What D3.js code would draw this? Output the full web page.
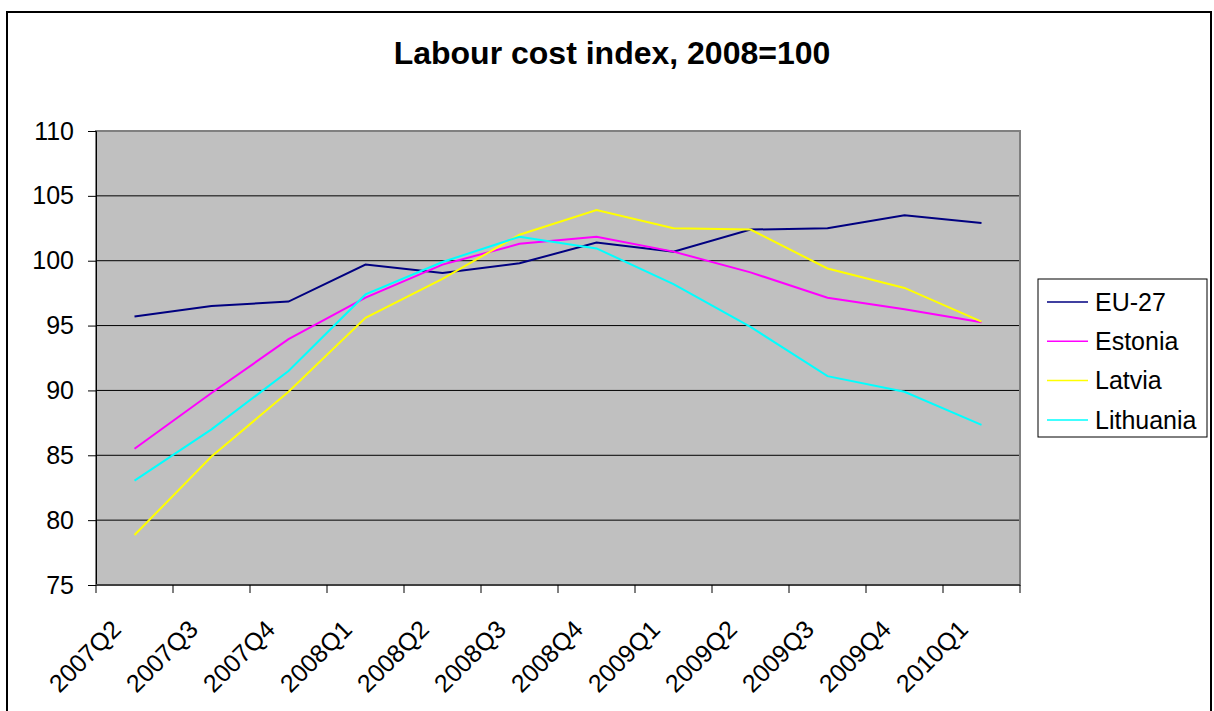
<!DOCTYPE html>
<html>
<head>
<meta charset="utf-8">
<script src="https://cdn.jsdelivr.net/npm/d3@7"></script>
<style>
  html, body { margin: 0; padding: 0; background: #fff; }
  svg { display: block; font-family: "Liberation Sans", Arial, sans-serif; }
</style>
</head>
<body>
<svg id="chart" width="1214" height="711"></svg>
<script>
// Quarterly labour cost index, 2008 = 100
const quarters = ["2007Q2","2007Q3","2007Q4","2008Q1","2008Q2","2008Q3","2008Q4","2009Q1","2009Q2","2009Q3","2009Q4","2010Q1"];
const eu27      = [95.7, 96.5, 96.85, 99.7, 99.05, 99.8, 101.4, 100.7, 102.4, 102.5, 103.5, 102.9];
const estonia   = [85.5, 89.8, 93.95, 97.15, 99.7, 101.3, 101.85, 100.7, 99.1, 97.15, 96.25, 95.25];
const latvia    = [78.85, 84.9, 89.9, 95.6, 98.6, 102.0, 103.9, 102.5, 102.4, 99.4, 97.9, 95.3];
const lithuania = [83.05, 87.0, 91.5, 97.4, 99.9, 101.85, 100.95, 98.2, 94.9, 91.1, 89.9, 87.35];
const seriesNames = ["EU-27", "Estonia", "Latvia", "Lithuania"];
const seriesColors = ["#000080", "#FF00FF", "#FFFF00", "#00FFFF"];
const yTicks = [75, 80, 85, 90, 95, 100, 105, 110];
const title = "Labour cost index, 2008=100";

const series = [eu27, estonia, latvia, lithuania].map((vals, i) => ({
  name: seriesNames[i], color: seriesColors[i], values: vals
}));

const svg = d3.select("#chart");

// outer chart frame
svg.append("rect")
  .attr("x", 7).attr("y", 12).attr("width", 1204).attr("height", 710)
  .attr("fill", "#fff").attr("stroke", "#000").attr("stroke-width", 2);

const plot = { left: 96, right: 1020, top: 131, bottom: 585 };

const x = d3.scaleBand().domain(quarters).range([plot.left, plot.right]).padding(0);
const y = d3.scaleLinear().domain([75, 110]).range([plot.bottom, plot.top]);

// title
svg.append("text")
  .attr("x", 612).attr("y", 64)
  .attr("text-anchor", "middle")
  .attr("font-size", 32).attr("font-weight", "bold")
  .text(title);

// plot background
svg.append("rect")
  .attr("x", plot.left).attr("y", plot.top)
  .attr("width", plot.right - plot.left).attr("height", plot.bottom - plot.top)
  .attr("fill", "#C0C0C0");

// horizontal gridlines
svg.append("g").selectAll("line")
  .data(yTicks.filter(t => t > 75 && t < 110))
  .join("line")
  .attr("x1", plot.left).attr("x2", plot.right)
  .attr("y1", d => y(d)).attr("y2", d => y(d))
  .attr("stroke", "#000").attr("stroke-width", 1);

// plot border
svg.append("rect")
  .attr("x", plot.left).attr("y", plot.top)
  .attr("width", plot.right - plot.left).attr("height", plot.bottom - plot.top)
  .attr("fill", "none").attr("stroke", "#808080").attr("stroke-width", 2);

// y axis
const yAxis = svg.append("g")
  .attr("transform", `translate(${plot.left},0)`)
  .call(d3.axisLeft(y).tickValues(yTicks).tickSize(8).tickPadding(14));
yAxis.select(".domain").attr("stroke", "#000").attr("stroke-width", 1);
yAxis.selectAll(".tick line").attr("stroke", "#000");
yAxis.selectAll(".tick text")
  .attr("font-size", 25).attr("fill", "#000")
  .attr("font-family", "'Liberation Sans', Arial, sans-serif");

// x axis: ticks at category boundaries
const xAxisG = svg.append("g").attr("transform", `translate(0,${plot.bottom})`);
const boundaries = quarters.map(q => x(q)).concat([plot.right]);
xAxisG.append("line")
  .attr("x1", plot.left).attr("x2", plot.right)
  .attr("stroke", "#404040").attr("stroke-width", 2);
xAxisG.selectAll("line.tk").data(boundaries).join("line")
  .attr("class", "tk")
  .attr("x1", d => d).attr("x2", d => d)
  .attr("y1", 0).attr("y2", 8)
  .attr("stroke", "#000");
xAxisG.selectAll("text").data(quarters).join("text")
  .attr("transform", d => `translate(${x(d) + x.bandwidth() / 2 - 12},${46}) rotate(-45)`)
  .attr("text-anchor", "end")
  .attr("font-size", 25)
  .text(d => d);

// lines
const line = d3.line()
  .x((d, i) => x(quarters[i]) + x.bandwidth() / 2)
  .y(d => y(d));

svg.append("g").selectAll("path")
  .data(series)
  .join("path")
  .attr("d", d => line(d.values))
  .attr("fill", "none")
  .attr("stroke", d => d.color)
  .attr("stroke-width", 2);

// legend
const legend = svg.append("g");
legend.append("rect")
  .attr("x", 1038).attr("y", 279).attr("width", 169).attr("height", 158)
  .attr("fill", "#fff").attr("stroke", "#000").attr("stroke-width", 1);
const rows = legend.selectAll("g.row").data(series).join("g")
  .attr("class", "row")
  .attr("transform", (d, i) => `translate(0,${302 + i * 39.3})`);
rows.append("line")
  .attr("x1", 1047).attr("x2", 1088)
  .attr("stroke", d => d.color).attr("stroke-width", 1.5);
rows.append("text")
  .attr("x", 1095).attr("dy", "0.35em")
  .attr("font-size", 25)
  .text(d => d.name);
</script>
</body>
</html>
